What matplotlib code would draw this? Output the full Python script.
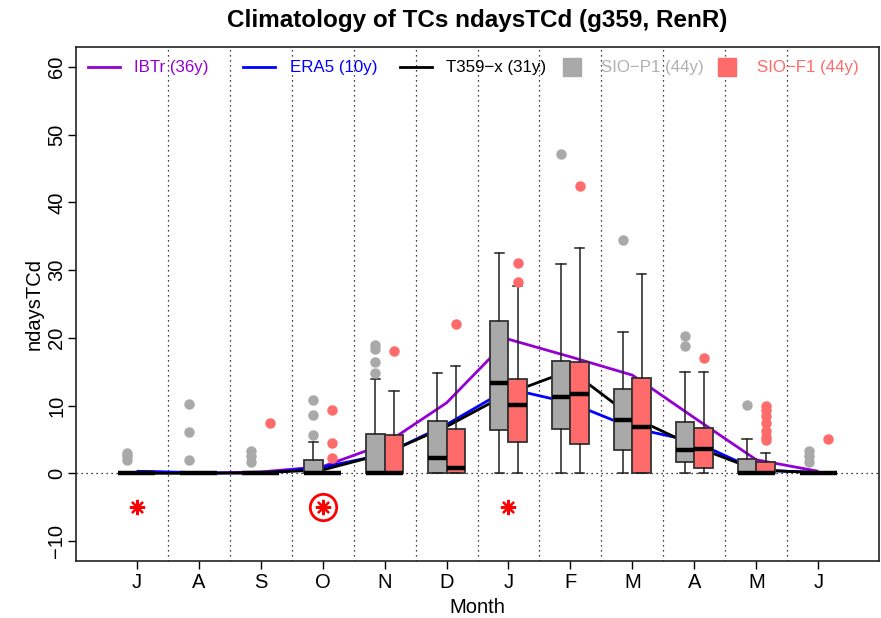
import matplotlib
matplotlib.use("Agg")
import matplotlib.pyplot as plt
import numpy as np

plt.rcParams['font.family'] = ['Liberation Sans', 'DejaVu Sans']

months = ['J', 'A', 'S', 'O', 'N', 'D', 'J', 'F', 'M', 'A', 'M', 'J']
xpos = np.arange(1, 13)

ibtr = [0.3, 0.0, 0.2, 1.0, 4.3, 10.4, 19.8, 17.2, 14.5, 8.2, 2.0, 0.3]
era5 = [0.3, 0.1, 0.0, 0.9, 2.8, 7.2, 12.5, 10.4, 6.7, 4.7, 0.5, 0.1]
t359 = [0.0, 0.0, 0.1, 0.5, 2.9, 6.9, 11.8, 15.2, 8.3, 4.0, 0.5, 0.1]

# SIO-P1 box statistics
p1_q1 = [0, 0, 0, 0, 0, 0, 6.4, 6.5, 3.4, 1.7, 0, 0]
p1_med = [0, 0, 0, 0, 0, 2.2, 13.3, 11.2, 7.9, 3.4, 0, 0]
p1_q3 = [0, 0, 0, 2.0, 5.8, 7.7, 22.5, 16.6, 12.4, 7.6, 2.1, 0]
p1_lo = [0, 0, 0, 0, 0, 0, 0, 0, 0, 0, 0, 0]
p1_hi = [0, 0, 0, 4.7, 14.0, 14.8, 32.6, 30.9, 20.8, 15.0, 5.0, 0]
p1_out = [[1.9, 2.5, 3.0], [2.0, 6.1, 10.2], [1.6, 2.5, 3.3], [5.7, 8.6, 10.8],
          [14.8, 16.5, 18.3, 18.9], [], [], [47.2], [34.4], [18.8, 20.3],
          [10.1], [1.7, 2.6, 3.3]]

# SIO-F1 box statistics
f1_q1 = [0, 0, 0, 0, 0, 0, 4.7, 4.3, 0, 0.8, 0, 0]
f1_med = [0, 0, 0, 0, 0, 0.8, 10.1, 11.7, 6.9, 3.6, 0, 0]
f1_q3 = [0, 0, 0, 0, 5.7, 6.5, 13.9, 16.5, 14.1, 6.7, 1.7, 0]
f1_lo = [0, 0, 0, 0, 0, 0, 0, 0, 0, 0, 0, 0]
f1_hi = [0, 0, 0, 0, 12.1, 15.8, 27.6, 33.3, 29.4, 15.0, 3.0, 0]
f1_out = [[], [], [7.5], [2.3, 4.5, 9.4], [18.1], [22.0], [28.3, 31.1],
          [42.4], [], [17.0], [4.9, 5.4, 6.2, 7.5, 8.4, 9.4, 9.9], [5.0]]

star_months = [1, 4, 7]
star_y = [-5, -5, -5]
circle_months = [4]
circle_y = [-5]

legend_labels = ['IBTr (36y)', 'ERA5 (10y)', 'T359\u2212x (31y)', 'SIO\u2212P1 (44y)', 'SIO\u2212F1 (44y)']

c_ibtr = '#9400D3'
c_era5 = '#0000FF'
c_t359 = '#000000'
c_p1 = '#A9A9A9'
c_f1 = '#FF6A6A'
c_p1_txt = '#B0B0B0'

fig = plt.figure(figsize=(8.81, 6.18), dpi=100)
ax = fig.add_axes([76/881, 1-560.7/618, (879-76)/881, (560.7-47)/618])
ax.set_xlim(0.02, 12.98)
ax.set_ylim(-12.9, 62.95)

# separators and zero line
for xv in xpos[:-1] + 0.5:
    ax.axvline(xv, color='black', lw=0.9, ls=(0, (1, 3)), zorder=1)
ax.axhline(0, color='black', lw=0.9, ls=(0, (1, 3)), zorder=1)

# climatology lines
ax.plot(xpos, ibtr, color=c_ibtr, lw=2.0, zorder=2, solid_capstyle='butt')
ax.plot(xpos, era5, color=c_era5, lw=2.0, zorder=2, solid_capstyle='butt')
ax.plot(xpos, t359, color=c_t359, lw=2.0, zorder=2, solid_capstyle='butt')


def make_stats(q1, med, q3, lo, hi, out):
    st = []
    for i in range(len(q1)):
        st.append(dict(q1=q1[i], med=med[i], q3=q3[i], whislo=lo[i], whishi=hi[i], fliers=out[i]))
    return st


bw = 0.3
for stats, off, col in [(make_stats(p1_q1, p1_med, p1_q3, p1_lo, p1_hi, p1_out), -0.15, c_p1),
                        (make_stats(f1_q1, f1_med, f1_q3, f1_lo, f1_hi, f1_out), 0.15, c_f1)]:
    ax.bxp(stats, positions=xpos + off, widths=bw, patch_artist=True,
           manage_ticks=False, capwidths=bw * 0.5,
           boxprops=dict(facecolor=col, edgecolor='#333333', linewidth=1.3),
           medianprops=dict(color='black', linewidth=3.2, solid_capstyle='butt'),
           whiskerprops=dict(color='#222222', linewidth=1.1),
           capprops=dict(color='#222222', linewidth=1.1),
           flierprops=dict(marker='o', markerfacecolor=col, markeredgecolor=col,
                           markersize=6.5, linestyle='none'),
           zorder=3)

# significance markers
ax.plot(star_months, star_y, linestyle='none', marker=(8, 2, 0), markersize=11,
        markeredgecolor='#FF0000', markeredgewidth=1.6, color='#FF0000', zorder=4)
ax.plot(circle_months, circle_y, linestyle='none', marker='o', markersize=19,
        markerfacecolor='none', markeredgecolor='#FF0000', markeredgewidth=2.0, zorder=4)

# legend (manual, R style)
ly = 0.961
def fx(px):
    return (px - 76) / 803.0
leg_lines = [(88, 120, 134, c_ibtr, c_ibtr), (243, 275, 290, c_era5, c_era5),
             (400, 432, 446, c_t359, c_t359)]
for (x0, x1, xt, c, tc), lab in zip(leg_lines, legend_labels[:3]):
    ax.plot([fx(x0), fx(x1)], [ly, ly], transform=ax.transAxes, color=c, lw=2.0,
            clip_on=False, zorder=5)
    ax.text(fx(xt), ly, lab, transform=ax.transAxes, color=tc, fontsize=12.2,
            va='center', ha='left', zorder=5)
for (xm, xt, c, tc), lab in zip([(572, 601, c_p1, c_p1_txt), (727, 757, c_f1, c_f1)],
                                legend_labels[3:]):
    ax.plot([fx(xm)], [ly], transform=ax.transAxes, marker='s', markersize=13.5,
            color=c, linestyle='none', clip_on=False, zorder=5)
    ax.text(fx(xt), ly, lab, transform=ax.transAxes, color=tc, fontsize=12.2,
            va='center', ha='left', zorder=5)

# axes styling
ax.set_xticks(xpos)
ax.set_xticklabels(months)
ax.set_yticks(np.arange(-10, 61, 10))
ax.tick_params(axis='both', direction='out', length=6, width=1.0, labelsize=14.5)
ax.tick_params(axis='x', pad=3)
ax.tick_params(axis='y', pad=1)
for lab in ax.get_yticklabels():
    lab.set_rotation(90)
    lab.set_va('center')
for sp in ax.spines.values():
    sp.set_linewidth(1.2)
    sp.set_color('#222222')

ax.set_xlabel('Month', fontsize=14.5)
ax.xaxis.set_label_coords(0.5, -0.092)
ax.xaxis.label.set_va('center')
ax.set_ylabel('ndaysTCd', fontsize=14.5)
ax.yaxis.set_label_coords(-0.052, 0.5)
ax.yaxis.label.set_va('center')

fig.text(0.5415, 1 - 20 / 618, 'Climatology of TCs ndaysTCd (g359, RenR)',
         ha='center', va='center', fontsize=17.5, fontweight='bold')

fig.savefig('out.png', dpi=100)
